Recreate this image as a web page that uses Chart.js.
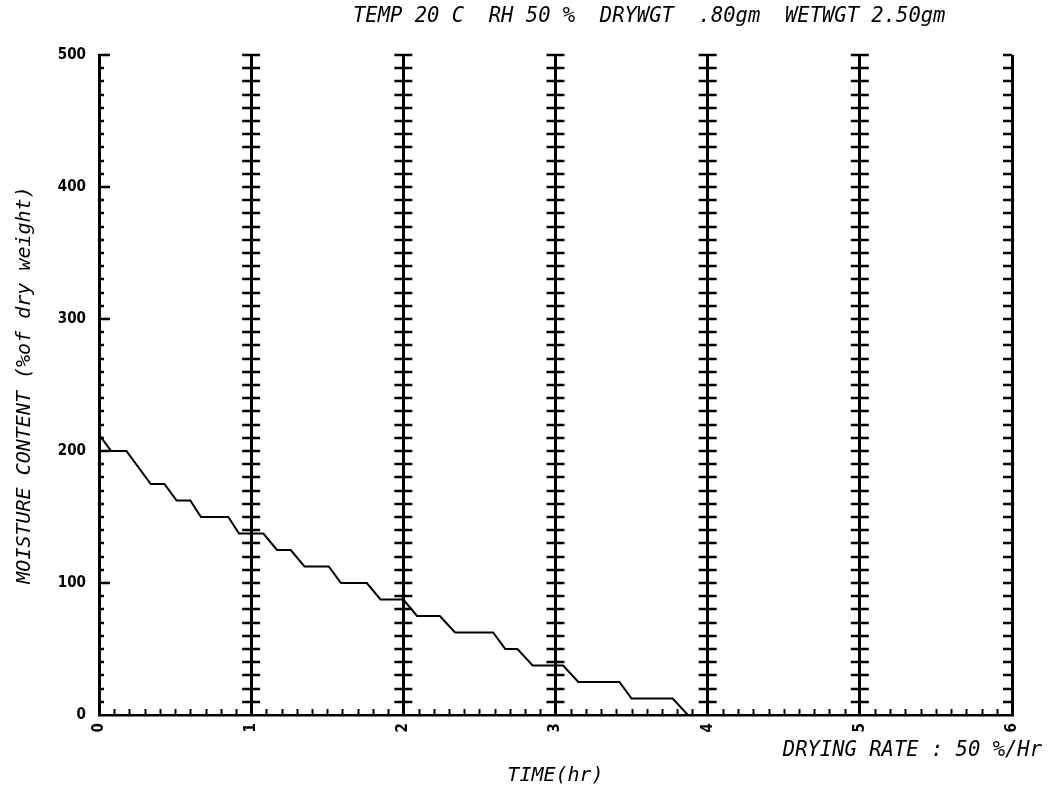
<!DOCTYPE html>
<html>
<head>
<meta charset="utf-8">
<script src="https://cdn.jsdelivr.net/npm/chart.js@4.4.0/dist/chart.umd.min.js"></script>
<style>
  html, body { margin: 0; padding: 0; background: #fff; }
  #wrap { width: 1054px; height: 791px; }
</style>
</head>
<body>
<div id="wrap"><canvas id="drying-chart" width="1054" height="791"></canvas></div>
<script>
// Drying curve (plotter style)
// ------------------------------
const timeHr = [0, 0.08, 0.18, 0.34, 0.43, 0.51, 0.60, 0.67, 0.85, 0.92, 1.08, 1.17, 1.26, 1.35, 1.51, 1.59,
                1.76, 1.85, 2.00, 2.09, 2.24, 2.34, 2.59, 2.67, 2.75, 2.85, 3.05, 3.15, 3.42, 3.50, 3.77, 3.87];
const moisture = [212.5, 200, 200, 175, 175, 162.5, 162.5, 150, 150, 137.5, 137.5, 125, 125, 112.5, 112.5, 100,
                  100, 87.5, 87.5, 75, 75, 62.5, 62.5, 50, 50, 37.5, 37.5, 25, 25, 12.5, 12.5, 0];
const xTicks = [0, 1, 2, 3, 4, 5, 6];
const yTicks = [0, 100, 200, 300, 400, 500];
const headerText = "TEMP 20 C  RH 50 %  DRYWGT  .80gm  WETWGT 2.50gm";
const rateText = "DRYING RATE : 50 %/Hr";

const plotFont = "'DejaVu Sans Mono', monospace";
const tickFont = "'DejaVu Sans Condensed', 'Liberation Sans Narrow', sans-serif";

// extra plotter marks: inward ticks, crosses on the hour lines, header text
const plotterMarks = {
    id: 'plotterMarks',
    afterDatasetsDraw(chart) {
        const ctx = chart.ctx;
        const x = chart.scales.x, y = chart.scales.y;
        const left = x.getPixelForValue(0);
        const right = x.getPixelForValue(6);
        const bottom = y.getPixelForValue(0);
        ctx.save();
        ctx.strokeStyle = '#000';
        ctx.lineWidth = 2.5;
        ctx.beginPath();
        for (let v = 10; v <= 500; v += 10) {
            const py = Math.round(y.getPixelForValue(v));
            const len = v % 100 === 0 ? 11 : 5;
            ctx.moveTo(left, py); ctx.lineTo(left + len, py);
            ctx.moveTo(right, py); ctx.lineTo(right - 9, py);
            for (let h = 1; h <= 5; h++) {
                const px = x.getPixelForValue(h);
                ctx.moveTo(px - 9, py); ctx.lineTo(px + 9, py);
            }
        }
        ctx.stroke();
        ctx.lineWidth = 2;
        ctx.beginPath();
        for (let k = 1; k < 60; k++) {
            if (k % 10 === 0) continue;
            const px = Math.round(x.getPixelForValue(k / 10)) + 0.5;
            ctx.moveTo(px, bottom); ctx.lineTo(px, bottom - 6);
        }
        ctx.stroke();

        ctx.fillStyle = '#000';
        ctx.font = 'italic 20.5px ' + plotFont;
        ctx.textBaseline = 'middle';
        ctx.textAlign = 'left';
        ctx.fillText(headerText, 353, 17);
        ctx.textAlign = 'right';
        ctx.fillText(rateText, 1042, 751);
        ctx.restore();
    }
};

var ctx = document.getElementById('drying-chart');

var chartData = {
    datasets: [{
        label: 'Moisture content',
        data: timeHr.map((t, i) => ({ x: t, y: moisture[i] })),
        borderColor: '#000',
        borderWidth: 2,
        pointRadius: 0,
        tension: 0,
        fill: false
    }]
};

var chartOptions = {
    responsive: false,
    animation: false,
    layout: { padding: { left: 0, top: 55, right: 42, bottom: 0 } },
    plugins: {
        legend: { display: false },
        tooltip: { enabled: false }
    },
    scales: {
        x: {
            type: 'linear',
            min: 0,
            max: 6,
            afterBuildTicks: s => { s.ticks = xTicks.map(v => ({ value: v })); },
            afterFit: s => { s.height = 76; },
            grid: { color: '#000', lineWidth: 3, drawTicks: false },
            border: { color: '#000', width: 2.5 },
            ticks: {
                color: '#000',
                minRotation: 90,
                maxRotation: 90,
                padding: 8,
                font: { family: tickFont, size: 15, weight: 'bold' }
            },
            title: {
                display: true,
                text: 'TIME(hr)',
                color: '#000',
                padding: { top: 0, bottom: 3 },
                font: { family: plotFont, size: 20, style: 'italic' }
            }
        },
        y: {
            min: 0,
            max: 500,
            afterBuildTicks: s => { s.ticks = yTicks.map(v => ({ value: v })); },
            afterFit: s => { s.width = 99; },
            grid: { display: false, drawTicks: false },
            border: { color: '#000', width: 2.5 },
            ticks: {
                color: '#000',
                padding: 13,
                font: { family: tickFont, size: 15, weight: 'bold' }
            },
            title: {
                display: true,
                text: 'MOISTURE CONTENT (%of dry weight)',
                color: '#000',
                padding: { top: 13, bottom: 0 },
                font: { family: plotFont, size: 20, style: 'italic' }
            }
        }
    }
};

var config = {
    type: 'line',
    data: chartData,
    options: chartOptions,
    plugins: [plotterMarks]
};

var dryingChart = new Chart(ctx, config);
</script>
</body>
</html>
